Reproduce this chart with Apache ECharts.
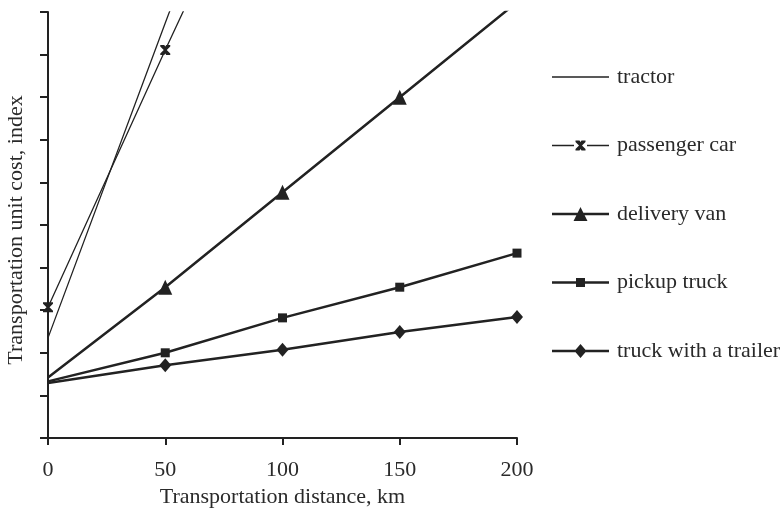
<!DOCTYPE html>
<html>
<head>
<meta charset="utf-8">
<script src="https://cdn.jsdelivr.net/npm/echarts@6/dist/echarts.min.js"></script>
<style>
  html, body { margin: 0; padding: 0; background: #fff; }
  #chart { width: 782px; height: 508px; }
</style>
</head>
<body>
<div id="chart"></div>
<script>
// Distances along the x axis (km)
const distances = [0, 50, 100, 150, 200];

// Unit cost index per vehicle type (values above 10 run off the top of the plot)
const tractor = [2.35, 9.74, 17.1];
const passengerCar = [3.07, 9.11, 15.0];
const deliveryVan = [1.42, 3.54, 5.77, 8.0, 10.23];
const pickupTruck = [1.33, 2.0, 2.82, 3.54, 4.34];
const truckTrailer = [1.29, 1.71, 2.07, 2.49, 2.84];

const seriesNames = ['tractor', 'passenger car', 'delivery van', 'pickup truck', 'truck with a trailer'];

const xTicks = { min: 0, max: 200, interval: 50 };
const yTicks = { min: 0, max: 10, interval: 1 };

const INK = '#222';
const FONT = 'Liberation Serif';
const FONT_SIZE = 22;

const crossMark = 'path://M0,0 L4,0 L5,1.5 L6,0 L10,0 L10,1.5 L6.5,5 L10,8.5 L10,10 L6,10 L5,8.5 L4,10 L0,10 L0,8.5 L3.5,5 L0,1.5 Z';

// Pair each value with its distance; optionally hide the marker on the first point
function pairs(values, hideFirst) {
  return values.map((v, i) => {
    const item = { value: [distances[i], v] };
    if (hideFirst && i === 0) item.symbol = 'none';
    return item;
  });
}

// Legend icons: a line with the marker drawn in its middle (57 px wide)
const legendIcons = {
  'tractor': 'path://M0,0 L57,0 L57,1.4 L0,1.4 Z',
  'passenger car': 'path://M0,7.3 L22,7.3 L22,8.7 L0,8.7 Z M35,7.3 L57,7.3 L57,8.7 L35,8.7 Z ' +
    'M23.5,3 L27.5,3 L28.5,4.5 L29.5,3 L33.5,3 L33.5,4.5 L30,8 L33.5,11.5 L33.5,13 L29.5,13 L28.5,11.5 L27.5,13 L23.5,13 L23.5,11.5 L27,8 L23.5,4.5 Z',
  'delivery van': 'path://M0,6.75 L57,6.75 L57,9.25 L0,9.25 Z M28.5,1 L35.5,15 L21.5,15 Z',
  'pickup truck': 'path://M0,6.75 L57,6.75 L57,9.25 L0,9.25 Z M24,3.5 L33,3.5 L33,12.5 L24,12.5 Z',
  'truck with a trailer': 'path://M0,6.75 L57,6.75 L57,9.25 L0,9.25 Z M28.5,1 L34.5,8 L28.5,15 L22.5,8 Z'
};

const chart = echarts.init(document.getElementById('chart'), null, { renderer: 'canvas' });

const thin = { color: INK, width: 1.3 };
const thick = { color: INK, width: 2.5 };

chart.setOption({
  animation: false,
  backgroundColor: '#fff',
  textStyle: { fontFamily: FONT, color: '#2a2a2a' },
  grid: { left: 48, right: 265, top: 12, bottom: 70, containLabel: false, outerBoundsMode: 'none' },
  legend: {
    orient: 'vertical',
    left: 552,
    top: 66,
    padding: 0,
    itemWidth: 57,
    itemHeight: 16,
    itemGap: 46.5,
    textStyle: { fontFamily: FONT, fontSize: FONT_SIZE, color: '#2a2a2a', padding: [0, 0, 0, 3] },
    data: seriesNames.map(n => ({ name: n, icon: legendIcons[n] }))
  },
  xAxis: {
    type: 'value',
    min: xTicks.min, max: xTicks.max, interval: xTicks.interval,
    name: 'Transportation distance, km',
    nameLocation: 'middle',
    nameGap: 40,
    nameTextStyle: { fontFamily: FONT, fontSize: FONT_SIZE, color: '#2a2a2a' },
    axisLine: { onZero: false, lineStyle: { color: INK, width: 2 } },
    axisTick: { show: true, length: 7, lineStyle: { color: INK, width: 2 } },
    axisLabel: { fontFamily: FONT, fontSize: FONT_SIZE, color: '#2a2a2a', margin: 21 },
    splitLine: { show: false }
  },
  yAxis: {
    type: 'value',
    min: yTicks.min, max: yTicks.max, interval: yTicks.interval,
    name: 'Transportation unit cost, index',
    nameLocation: 'middle',
    nameGap: 21,
    nameTextStyle: { fontFamily: FONT, fontSize: FONT_SIZE, color: '#2a2a2a', padding: [0, 10, 0, 0] },
    axisLine: { show: true, onZero: false, lineStyle: { color: INK, width: 2 } },
    axisTick: { show: true, length: 8, lineStyle: { color: INK, width: 2 } },
    axisLabel: { show: false },
    splitLine: { show: false }
  },
  series: [
    {
      name: 'tractor', type: 'line', data: pairs(tractor, false),
      symbol: 'none', lineStyle: thin, itemStyle: { color: INK }, clip: true, z: 3
    },
    {
      name: 'passenger car', type: 'line', data: pairs(passengerCar, false),
      symbol: crossMark, symbolSize: 10, showAllSymbol: true,
      lineStyle: thin, itemStyle: { color: INK }, clip: true, z: 3
    },
    {
      name: 'delivery van', type: 'line', data: pairs(deliveryVan, true),
      symbol: 'triangle', symbolSize: [14, 15], showAllSymbol: true,
      lineStyle: thick, itemStyle: { color: INK }, clip: true, z: 3
    },
    {
      name: 'pickup truck', type: 'line', data: pairs(pickupTruck, true),
      symbol: 'rect', symbolSize: 9, showAllSymbol: true,
      lineStyle: thick, itemStyle: { color: INK }, clip: true, z: 3
    },
    {
      name: 'truck with a trailer', type: 'line', data: pairs(truckTrailer, true),
      symbol: 'diamond', symbolSize: [12, 14], showAllSymbol: true,
      lineStyle: thick, itemStyle: { color: INK }, clip: true, z: 3
    }
  ]
});
</script>
</body>
</html>
